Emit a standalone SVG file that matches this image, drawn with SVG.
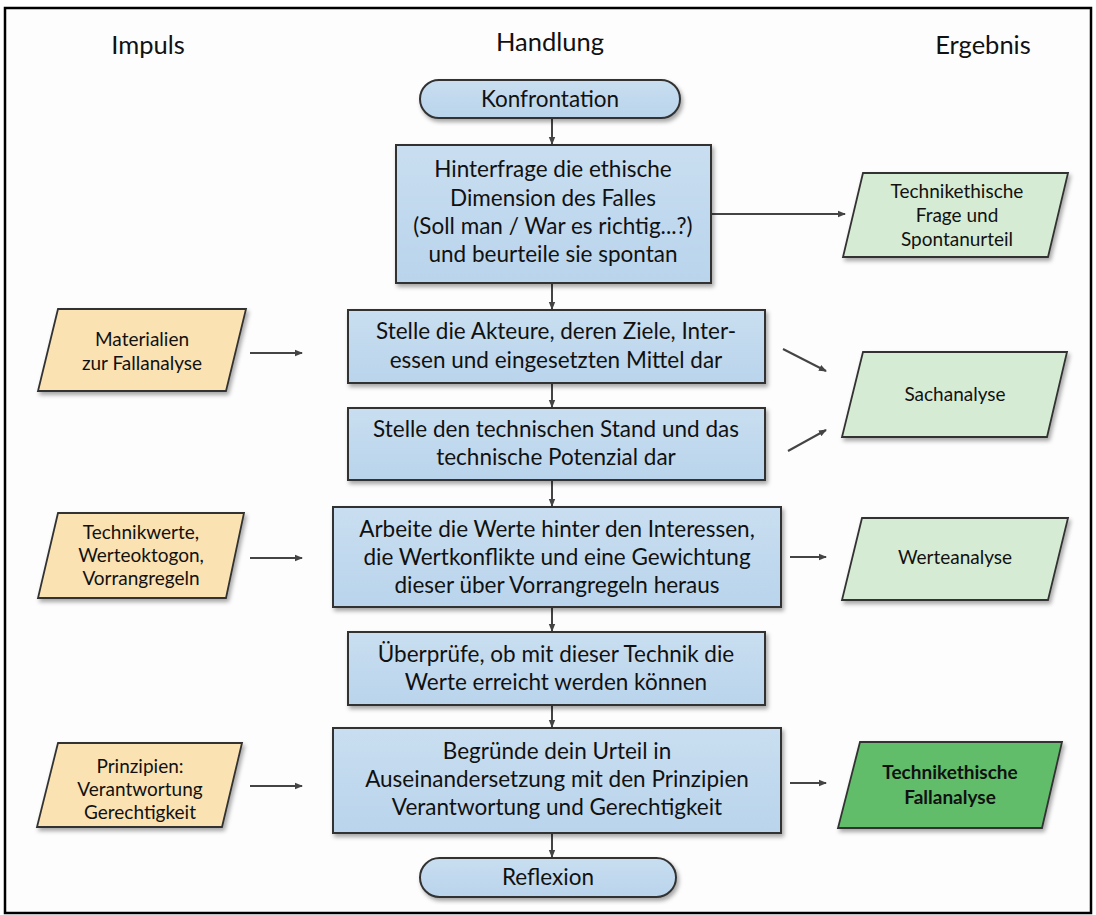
<svg xmlns="http://www.w3.org/2000/svg" width="1096" height="915" viewBox="0 0 1096 915">
<style>
text{font-family:Lato,"Liberation Sans",sans-serif;fill:#111;text-anchor:middle}
.hd{font-size:25.5px}
.bt{font-size:22.5px}
.st{font-size:19px}
.b{font-weight:bold}
.box{fill:url(#gBlue);stroke:#333;stroke-width:2;filter:url(#sh)}
.pill{fill:url(#gBlue);stroke:#333;stroke-width:2;filter:url(#sh)}
.or{fill:#fbe2b2;stroke:#333;stroke-width:1.8;filter:url(#sh)}
.gr{fill:#d6ebd3;stroke:#333;stroke-width:1.8;filter:url(#sh)}
.dg{fill:#62bd6a;stroke:#333;stroke-width:1.8;filter:url(#sh)}
.con line{stroke:#444;stroke-width:2;marker-end:url(#ah)}
</style>
<defs>
<linearGradient id="gBlue" x1="0" y1="0" x2="0" y2="1">
<stop offset="0" stop-color="#c9def0"/>
<stop offset="1" stop-color="#b9d4ec"/>
</linearGradient>
<filter id="sh" x="-10%" y="-10%" width="125%" height="130%">
<feDropShadow dx="2" dy="3" stdDeviation="2" flood-color="#000" flood-opacity="0.35"/>
</filter>
<marker id="ah" markerWidth="8" markerHeight="8" refX="7" refY="4" orient="auto" markerUnits="userSpaceOnUse">
<path d="M0,0.8 L8,4 L0,7.2 Z" fill="#444"/>
</marker>
</defs>
<rect x="0" y="0" width="1096" height="915" fill="#fff"/>
<rect x="5" y="8" width="1086" height="905" fill="#fdfdfd" stroke="#000" stroke-width="2.5"/>

<g id="headers">
<text class="hd" x="148" y="54">Impuls</text>
<text class="hd" x="550" y="51">Handlung</text>
<text class="hd" x="983" y="54">Ergebnis</text>
</g>

<g id="connectors" class="con">
<line x1="552" y1="118" x2="552" y2="144"/>
<line x1="552" y1="283" x2="552" y2="309"/>
<line x1="552" y1="383" x2="552" y2="407"/>
<line x1="552" y1="480" x2="552" y2="506"/>
<line x1="552" y1="607" x2="552" y2="631"/>
<line x1="552" y1="705" x2="552" y2="727"/>
<line x1="552" y1="833" x2="552" y2="857"/>
<line x1="711" y1="214" x2="845" y2="214"/>
<line x1="250" y1="353" x2="302" y2="353"/>
<line x1="783" y1="349" x2="826" y2="371"/>
<line x1="788" y1="451" x2="826" y2="430"/>
<line x1="250" y1="558" x2="302" y2="558"/>
<line x1="790" y1="557" x2="826" y2="557"/>
<line x1="250" y1="786" x2="302" y2="786"/>
<line x1="790" y1="783" x2="826" y2="783"/>
</g>

<g id="konfrontation">
<rect class="pill" x="420" y="80" width="260" height="38" rx="19"/>
<text class="bt" x="550" y="107">Konfrontation</text>
</g>

<g id="hinterfrage">
<rect class="box" x="396" y="145" width="315" height="138"/>
<text class="bt" x="553" y="177">Hinterfrage die ethische</text>
<text class="bt" x="553" y="205.5">Dimension des Falles</text>
<text class="bt" x="553" y="234">(Soll man / War es richtig...?)</text>
<text class="bt" x="553" y="262">und beurteile sie spontan</text>
</g>

<g id="spontanurteil">
<polygon class="gr" points="863,173 1068,173 1048,257 843,257"/>
<text class="st" x="957" y="198">Technikethische</text>
<text class="st" x="957" y="222">Frage und</text>
<text class="st" x="957" y="246">Spontanurteil</text>
</g>

<g id="materialien">
<polygon class="or" points="58,309 246,309 226,391 38,391"/>
<text class="st" x="142" y="346">Materialien</text>
<text class="st" x="142" y="370">zur Fallanalyse</text>
</g>

<g id="akteure">
<rect class="box" x="348" y="310" width="417" height="73"/>
<text class="bt" x="556" y="339">Stelle die Akteure, deren Ziele, Inter-</text>
<text class="bt" x="556" y="368">essen und eingesetzten Mittel dar</text>
</g>

<g id="sachanalyse">
<polygon class="gr" points="863,352 1067,352 1047,437 842,437"/>
<text class="st" x="955" y="401">Sachanalyse</text>
</g>

<g id="stand">
<rect class="box" x="348" y="408" width="417" height="72"/>
<text class="bt" x="556" y="437">Stelle den technischen Stand und das</text>
<text class="bt" x="556" y="465">technische Potenzial dar</text>
</g>

<g id="technikwerte">
<polygon class="or" points="58,513 244,513 226,598 38,598"/>
<text class="st" x="141" y="539">Technikwerte,</text>
<text class="st" x="141" y="562">Werteoktogon,</text>
<text class="st" x="141" y="585">Vorrangregeln</text>
</g>

<g id="werte">
<rect class="box" x="333" y="507" width="448" height="100"/>
<text class="bt" x="557" y="537">Arbeite die Werte hinter den Interessen,</text>
<text class="bt" x="557" y="565">die Wertkonflikte und eine Gewichtung</text>
<text class="bt" x="557" y="593">dieser über Vorrangregeln heraus</text>
</g>

<g id="werteanalyse">
<polygon class="gr" points="862,518 1068,518 1048,600 842,600"/>
<text class="st" x="955" y="564">Werteanalyse</text>
</g>

<g id="ueberpruefe">
<rect class="box" x="348" y="632" width="417" height="73"/>
<text class="bt" x="556" y="662">Überprüfe, ob mit dieser Technik die</text>
<text class="bt" x="556" y="690">Werte erreicht werden können</text>
</g>

<g id="prinzipien">
<polygon class="or" points="58,743 242,743 222,827 37,827"/>
<text class="st" x="140" y="773">Prinzipien:</text>
<text class="st" x="140" y="796">Verantwortung</text>
<text class="st" x="140" y="819">Gerechtigkeit</text>
</g>

<g id="begruende">
<rect class="box" x="333" y="728" width="448" height="105"/>
<text class="bt" x="557" y="759">Begründe dein Urteil in</text>
<text class="bt" x="557" y="787">Auseinandersetzung mit den Prinzipien</text>
<text class="bt" x="557" y="815">Verantwortung und Gerechtigkeit</text>
</g>

<g id="fallanalyse">
<polygon class="dg" points="860,742 1062,742 1042,828 838,828"/>
<text class="st b" x="950" y="779">Technikethische</text>
<text class="st b" x="950" y="804">Fallanalyse</text>
</g>

<g id="reflexion">
<rect class="pill" x="420" y="858" width="256" height="39" rx="19.5"/>
<text class="bt" x="548" y="885">Reflexion</text>
</g>
</svg>
